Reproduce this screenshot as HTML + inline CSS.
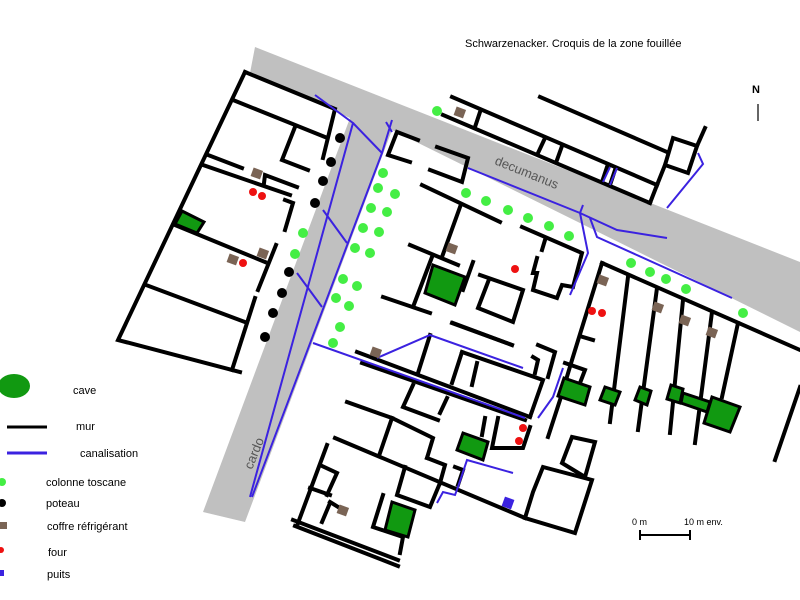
<!DOCTYPE html>
<html><head><meta charset="utf-8"><style>
html,body{margin:0;padding:0;background:#fff;}
svg{display:block;font-family:"Liberation Sans",sans-serif;}
</style></head><body>
<svg width="800" height="600" viewBox="0 0 800 600" xmlns="http://www.w3.org/2000/svg">
<rect width="800" height="600" fill="#fff"/>
<!-- roads -->
<polygon points="255,47 800,262 800,332 392,130 245,522 203,512 350,118 250,73" fill="#c0c0c0"/>
<text x="0" y="0" font-size="13" fill="#555" transform="translate(494,164) rotate(22)">decumanus</text>
<text x="0" y="0" font-size="13" fill="#555" transform="translate(252,470) rotate(-68)">cardo</text>

<!-- walls -->
<g stroke="#000" stroke-width="4" fill="none" stroke-linecap="square">
<!-- left block -->
<polyline points="245,72 335,109 323,158"/>
<polyline points="245,72 118,340 240,372"/>
<line x1="233" y1="100" x2="325" y2="137"/>
<polyline points="295,127 282,160 308,170"/>
<line x1="208" y1="155" x2="242" y2="168"/>
<line x1="203" y1="165" x2="290" y2="195"/>
<polyline points="264,183 265,175 297,187"/>
<polyline points="285,200 293,203 285,230"/>
<line x1="175" y1="225" x2="265" y2="262"/>
<line x1="276" y1="245" x2="258" y2="290"/>
<line x1="146" y1="285" x2="245" y2="322"/>
<line x1="255" y1="298" x2="232" y2="370"/>
<!-- north of decumanus -->
<line x1="443" y1="115" x2="650" y2="203"/>
<line x1="452" y1="97" x2="657" y2="185"/>
<line x1="540" y1="97" x2="667" y2="152"/>
<line x1="480" y1="112" x2="475" y2="127"/>
<line x1="545" y1="138" x2="538" y2="153"/>
<line x1="562" y1="146" x2="557" y2="160"/>
<line x1="607" y1="167" x2="602" y2="182"/>
<line x1="615" y1="170" x2="610" y2="185"/>
<line x1="657" y1="185" x2="650" y2="203"/>
<polygon points="673,138 697,146 688,173 665,165"/>
<line x1="705" y1="128" x2="697" y2="146"/>
<line x1="665" y1="165" x2="657" y2="185"/>
<!-- central block -->
<polyline points="418,140 397,132 388,155 410,162"/>
<polyline points="437,147 468,158 462,182 430,170"/>
<line x1="422" y1="185" x2="500" y2="222"/>
<line x1="460" y1="207" x2="442" y2="257"/>
<line x1="410" y1="245" x2="458" y2="265"/>
<line x1="432" y1="257" x2="413" y2="307"/>
<line x1="383" y1="297" x2="430" y2="313"/>
<line x1="473" y1="262" x2="463" y2="290"/>
<polyline points="480,275 523,290 513,322 478,308 488,282"/>
<line x1="452" y1="323" x2="512" y2="345"/>
<polyline points="522,227 582,253 573,287 562,285 557,298 533,290 537,273 533,273 537,258"/>
<line x1="545" y1="240" x2="542" y2="250"/>
<!-- east row -->
<line x1="602" y1="263" x2="800" y2="350"/>
<polyline points="602,263 572,360 560,400 548,437"/>
<line x1="583" y1="337" x2="593" y2="340"/>
<line x1="628" y1="277" x2="610" y2="422"/>
<line x1="657" y1="288" x2="638" y2="430"/>
<line x1="683" y1="300" x2="670" y2="433"/>
<line x1="712" y1="312" x2="695" y2="443"/>
<line x1="738" y1="323" x2="722" y2="397"/>
<line x1="800" y1="387" x2="775" y2="460"/>
<polyline points="565,363 585,370 580,383"/>
<polygon points="572,437 595,442 585,477 562,463"/>
<polygon points="543,467 592,480 575,533 525,518 533,492"/>
<!-- south part -->
<line x1="357" y1="352" x2="530" y2="417"/>
<line x1="362" y1="363" x2="525" y2="420"/>
<line x1="430" y1="335" x2="418" y2="373"/>
<line x1="453" y1="323" x2="512" y2="345"/>
<polyline points="462,352 543,380 530,417"/>
<line x1="462" y1="352" x2="452" y2="383"/>
<line x1="477" y1="363" x2="472" y2="385"/>
<polyline points="538,345 555,352 548,377"/>
<polyline points="533,357 538,360 535,373"/>
<polyline points="413,385 403,407 438,420"/>
<line x1="447" y1="398" x2="440" y2="413"/>
<polyline points="347,402 392,418 433,438 427,458"/>
<line x1="392" y1="418" x2="380" y2="453"/>
<line x1="335" y1="438" x2="525" y2="518"/>
<line x1="327" y1="445" x2="298" y2="523"/>
<polyline points="320,465 337,473 327,495"/>
<line x1="310" y1="488" x2="330" y2="495"/>
<line x1="330" y1="503" x2="322" y2="522"/>
<line x1="330" y1="502" x2="343" y2="510"/>
<line x1="293" y1="520" x2="398" y2="560"/>
<line x1="295" y1="526" x2="398" y2="566"/>
<polyline points="383,495 373,527 403,537 400,553"/>
<polyline points="405,467 397,495 430,507 440,483"/>
<polyline points="427,458 445,465 440,483"/>
<line x1="485" y1="418" x2="482" y2="435"/>
<polyline points="498,418 492,448 523,448 530,427"/>
<polyline points="455,467 463,470 458,485"/>
</g>

<!-- caves -->
<g fill="#119911" stroke="#000" stroke-width="3">
<polygon points="182,211 204,222 197,233 175,224"/>
<polygon points="433,265 465,277 455,305 425,293"/>
<polygon points="463,433 488,442 483,460 457,450"/>
<polygon points="392,502 415,510 408,537 385,530"/>
<polygon points="564,378 590,387 585,405 558,396"/>
<polygon points="605,387 620,392 615,405 600,400"/>
<polygon points="640,387 651,391 647,405 635,400"/>
<polygon points="671,385 683,389 680,403 667,399"/>
<polygon points="683,393 710,402 707,412 681,403"/>
<polygon points="712,397 740,407 730,432 704,423"/>
</g>

<!-- canalisation -->
<g stroke="#3b22e0" stroke-width="2" fill="none">
<polyline points="315,95 353,123 250,497"/>
<polyline points="392,120 382,153 252,497"/>
<line x1="386" y1="122" x2="392" y2="132"/>
<line x1="353" y1="123" x2="382" y2="153"/>
<line x1="323" y1="210" x2="347" y2="243"/>
<line x1="297" y1="273" x2="322" y2="307"/>
<polyline points="468,168 580,213 617,230 667,238"/>
<polyline points="580,213 588,253 570,295"/>
<polyline points="583,205 580,213"/>
<polyline points="590,218 597,237 732,298"/>
<line x1="603" y1="182" x2="610" y2="167"/>
<line x1="610" y1="185" x2="617" y2="168"/>
<polyline points="698,153 703,164 667,208"/>
<line x1="313" y1="343" x2="525" y2="418"/>
<polyline points="377,358 430,335 523,368"/>
<polyline points="563,368 553,397 538,418"/>
<polyline points="513,473 467,460 458,487 455,495 443,492 437,503"/>
</g>
<rect x="503" y="498" width="10" height="10" fill="#3b22e0" transform="rotate(20 508 503)"/>

<!-- poteaux -->
<g fill="#000">
<circle cx="340" cy="138" r="5"/><circle cx="331" cy="162" r="5"/><circle cx="323" cy="181" r="5"/><circle cx="315" cy="203" r="5"/>
<circle cx="289" cy="272" r="5"/><circle cx="282" cy="293" r="5"/><circle cx="273" cy="313" r="5"/><circle cx="265" cy="337" r="5"/>
</g>
<!-- colonnes -->
<g fill="#44ee44">
<circle cx="383" cy="173" r="5"/><circle cx="378" cy="188" r="5"/><circle cx="395" cy="194" r="5"/><circle cx="371" cy="208" r="5"/><circle cx="387" cy="212" r="5"/><circle cx="363" cy="228" r="5"/><circle cx="379" cy="232" r="5"/><circle cx="303" cy="233" r="5"/><circle cx="355" cy="248" r="5"/><circle cx="370" cy="253" r="5"/><circle cx="295" cy="254" r="5"/><circle cx="343" cy="279" r="5"/><circle cx="357" cy="286" r="5"/><circle cx="336" cy="298" r="5"/><circle cx="349" cy="306" r="5"/><circle cx="340" cy="327" r="5"/><circle cx="333" cy="343" r="5"/>
<circle cx="437" cy="111" r="5"/>
<circle cx="466" cy="193" r="5"/><circle cx="486" cy="201" r="5"/><circle cx="508" cy="210" r="5"/><circle cx="528" cy="218" r="5"/><circle cx="549" cy="226" r="5"/><circle cx="569" cy="236" r="5"/>
<circle cx="631" cy="263" r="5"/><circle cx="650" cy="272" r="5"/><circle cx="666" cy="279" r="5"/><circle cx="686" cy="289" r="5"/><circle cx="743" cy="313" r="5"/>
</g>
<!-- fours -->
<g fill="#ee1111">
<circle cx="253" cy="192" r="4"/><circle cx="262" cy="196" r="4"/><circle cx="243" cy="263" r="4"/><circle cx="515" cy="269" r="4"/>
<circle cx="592" cy="311" r="4"/><circle cx="602" cy="313" r="4"/><circle cx="523" cy="428" r="4"/><circle cx="519" cy="441" r="4"/>
</g>
<!-- coffres -->
<g fill="#7a6455">
<rect x="-5" y="-4" width="10" height="9" transform="translate(257,173) rotate(20)"/>
<rect x="-5" y="-4" width="10" height="9" transform="translate(263,253) rotate(20)"/>
<rect x="-5" y="-4" width="10" height="9" transform="translate(233,259) rotate(20)"/>
<rect x="-5" y="-4" width="10" height="9" transform="translate(376,352) rotate(20)"/>
<rect x="-5" y="-4" width="10" height="9" transform="translate(460,112) rotate(20)"/>
<rect x="-5" y="-4" width="10" height="9" transform="translate(452,248) rotate(20)"/>
<rect x="-5" y="-4" width="10" height="9" transform="translate(603,280) rotate(20)"/>
<rect x="-5" y="-4" width="10" height="9" transform="translate(658,307) rotate(20)"/>
<rect x="-5" y="-4" width="10" height="9" transform="translate(685,320) rotate(20)"/>
<rect x="-5" y="-4" width="10" height="9" transform="translate(712,332) rotate(20)"/>
<rect x="-5" y="-4" width="10" height="9" transform="translate(343,510) rotate(20)"/>
</g>

<!-- title, north, scale -->
<text x="465" y="47" font-size="11" fill="#000">Schwarzenacker. Croquis de la zone fouillée</text>
<text x="752" y="93" font-size="11" font-weight="bold" fill="#000">N</text>
<line x1="758" y1="104" x2="758" y2="121" stroke="#333" stroke-width="1.5"/>
<text x="632" y="525" font-size="9" fill="#000">0 m</text>
<text x="684" y="525" font-size="9" fill="#000">10 m env.</text>
<g stroke="#000" stroke-width="2"><line x1="640" y1="535" x2="690" y2="535"/><line x1="640" y1="530" x2="640" y2="540"/><line x1="690" y1="530" x2="690" y2="540"/></g>

<!-- legend -->
<ellipse cx="14" cy="386" rx="16" ry="12" fill="#119911"/>
<text x="73" y="394" font-size="11">cave</text>
<line x1="7" y1="427" x2="47" y2="427" stroke="#000" stroke-width="3"/>
<text x="76" y="430" font-size="11">mur</text>
<line x1="7" y1="453" x2="47" y2="453" stroke="#3b22e0" stroke-width="3"/>
<text x="80" y="457" font-size="11">canalisation</text>
<circle cx="2" cy="482" r="4" fill="#44ee44"/>
<text x="46" y="486" font-size="11">colonne toscane</text>
<circle cx="2" cy="503" r="4" fill="#000"/>
<text x="46" y="507" font-size="11">poteau</text>
<rect x="0" y="522" width="7" height="7" fill="#7a6455"/>
<text x="47" y="530" font-size="11">coffre réfrigérant</text>
<circle cx="1" cy="550" r="3" fill="#ee1111"/>
<text x="48" y="556" font-size="11">four</text>
<rect x="0" y="570" width="4" height="6" fill="#3b22e0"/>
<text x="47" y="578" font-size="11">puits</text>
</svg>
</body></html>
